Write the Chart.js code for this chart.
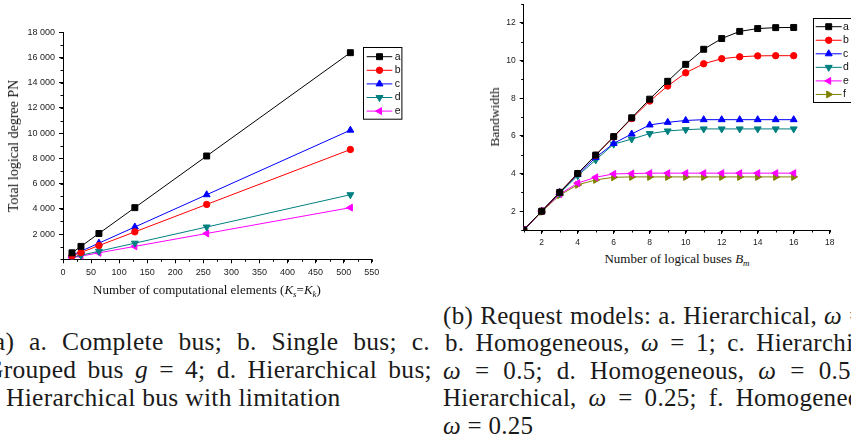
<!DOCTYPE html>
<html>
<head>
<meta charset="utf-8">
<script src="https://cdn.jsdelivr.net/npm/chart.js@4.4.0/dist/chart.umd.min.js"></script>
<style>
  html, body { margin: 0; padding: 0; background: #fff; width: 851px; height: 447px; overflow: hidden; position: relative; }
  canvas { position: absolute; }
  #c1 { left: 0; top: 0; }
  #c2 { left: 430px; top: -5px; }
  .t { position: absolute; font-family: "Liberation Serif", serif; font-size: 13px; color: #111; white-space: nowrap; transform: translate(-50%, -50%); }
  .t.rot { transform: translate(-50%, -50%) rotate(-90deg); }
  .t sub { font-size: 9px; vertical-align: -3px; line-height: 0; }
  .cap { position: absolute; font-family: "Liberation Serif", serif; font-size: 25.5px; line-height: 28px; letter-spacing: 0.3px; color: #1a1a1a; white-space: nowrap; }
  .cap.r { font-size: 25px; }
  .j { white-space: normal; text-align: justify; text-align-last: justify; }
</style>
</head>
<body>
<canvas id="c1" width="430" height="285"></canvas>
<canvas id="c2" width="421" height="255"></canvas>

<div class="t rot" style="left:14px;top:146px;font-size:14px">Total logical degree PN</div>
<div class="t" style="left:207px;top:290px">Number of computational elements (<i>K</i><sub><i>s</i></sub>=<i>K</i><sub><i>k</i></sub>)</div>
<div class="t rot" style="left:495px;top:117px;font-size:13.5px">Bandwidth</div>
<div class="t" style="left:677px;top:259px">Number of logical buses <i>B</i><sub><i>m</i></sub></div>

<div class="cap j" style="left:-15px;top:328px;width:445px">(a) a. Complete bus; b. Single bus; c.</div>
<div class="cap j" style="left:-15px;top:356px;width:447px">Grouped bus <i>g</i> = 4; d. Hierarchical bus;</div>
<div class="cap" style="left:-19px;top:384px">e. Hierarchical bus with limitation</div>

<div class="cap r j" style="left:443px;top:302px;width:447px">(b) Request models: a. Hierarchical, <i>ω</i> = 1.</div>
<div class="cap r j" style="left:445px;top:329px;width:445px">b. Homogeneous, <i>ω</i> = 1; c. Hierarchical,</div>
<div class="cap r j" style="left:443px;top:357px;width:447px"><i>ω</i> = 0.5; d. Homogeneous, <i>ω</i> = 0.5; e.</div>
<div class="cap r j" style="left:443px;top:384px;width:447px">Hierarchical, <i>ω</i> = 0.25; f. Homogeneous,</div>
<div class="cap r" style="left:443px;top:412px"><i>ω</i> = 0.25</div>

<script>
// ---- data, left chart: total logical degree vs computational elements
const elements = [16, 32, 64, 128, 256, 512];
const degreeA = [512, 1024, 2048, 4096, 8192, 16384];
const degreeB = [272, 544, 1088, 2176, 4352, 8704];
const degreeC = [320, 640, 1280, 2560, 5120, 10240];
const degreeD = [160, 320, 640, 1280, 2560, 5120];
const degreeE = [128, 256, 512, 1024, 2048, 4096];
const leftXTicks = [0, 50, 100, 150, 200, 250, 300, 350, 400, 450, 500, 550];
const leftYTicks = [2000, 4000, 6000, 8000, 10000, 12000, 14000, 16000, 18000];

// ---- data, right chart: bandwidth vs logical buses
const buses = [1, 2, 3, 4, 5, 6, 7, 8, 9, 10, 11, 12, 13, 14, 15, 16];
const bwA = [1, 2, 3, 4, 4.98, 5.96, 6.96, 7.95, 8.9, 9.8, 10.6, 11.17, 11.55, 11.7, 11.75, 11.76];
const bwB = [1, 2, 3, 4, 4.97, 5.95, 6.92, 7.85, 8.65, 9.35, 9.83, 10.1, 10.2, 10.25, 10.26, 10.26];
const bwC = [1, 2, 3, 3.95, 4.85, 5.6, 6.1, 6.58, 6.72, 6.82, 6.86, 6.86, 6.86, 6.86, 6.86, 6.86];
const bwD = [1, 2, 2.95, 3.88, 4.72, 5.56, 5.83, 6.12, 6.26, 6.33, 6.37, 6.37, 6.37, 6.37, 6.37, 6.37];
const bwE = [1, 2, 2.9, 3.49, 3.8, 3.98, 4.0, 4.02, 4.02, 4.02, 4.02, 4.02, 4.02, 4.02, 4.02, 4.02];
const bwF = [1, 1.97, 2.85, 3.4, 3.66, 3.8, 3.82, 3.82, 3.82, 3.82, 3.82, 3.82, 3.82, 3.82, 3.82, 3.82];
const rightXTicks = [2, 4, 6, 8, 10, 12, 14, 16, 18];
const rightYTicks = [2, 4, 6, 8, 10, 12];

const tickFont = { family: '"Liberation Sans", Arial, sans-serif' };

function pairs(xs, ys) {
  return xs.map((x, i) => ({ x: x, y: ys[i] }));
}

function series(label, color, style, rotation, radius, xs, ys) {
  return {
    label: label,
    data: pairs(xs, ys),
    borderColor: color,
    backgroundColor: color,
    borderWidth: 1,
    pointStyle: style,
    pointRotation: rotation,
    pointRadius: radius,
    pointBackgroundColor: color,
    pointBorderColor: color,
    pointBorderWidth: 1,
    tension: 0
  };
}

function spaced(v) {
  return String(v).replace(/\B(?=(\d{3})+(?!\d))/g, ' ');
}

// short minor ticks between the labelled ones
const minorTicks = {
  id: 'minorTicks',
  afterDraw(chart, args, opts) {
    const ctx = chart.ctx;
    const area = chart.chartArea;
    ctx.save();
    ctx.strokeStyle = '#000';
    ctx.lineWidth = 1;
    const sx = chart.scales.x, sy = chart.scales.y;
    for (let v = sx.min; v <= sx.max + 1e-9; v += opts.x) {
      const p = Math.round(sx.getPixelForValue(v)) + 0.5;
      ctx.beginPath(); ctx.moveTo(p, area.bottom); ctx.lineTo(p, area.bottom + 2.5); ctx.stroke();
    }
    for (let v = sy.min; v <= sy.max + 1e-9; v += opts.y) {
      const p = Math.round(sy.getPixelForValue(v)) + 0.5;
      ctx.beginPath(); ctx.moveTo(area.left, p); ctx.lineTo(area.left - 2.5, p); ctx.stroke();
    }
    ctx.restore();
  }
};

// framed legend like the original plots
const boxLegend = {
  id: 'boxLegend',
  afterDraw(chart, args, o) {
    const ctx = chart.ctx;
    ctx.save();
    ctx.fillStyle = '#fff';
    ctx.fillRect(o.x, o.y, o.w, o.h);
    ctx.strokeStyle = '#000';
    ctx.lineWidth = 1;
    ctx.strokeRect(Math.round(o.x) + 0.5, Math.round(o.y) + 0.5, o.w, o.h);
    ctx.font = '10.5px "Liberation Sans", Arial, sans-serif';
    ctx.textBaseline = 'middle';
    chart.data.datasets.forEach((ds, i) => {
      const y = o.y + o.first + i * o.gap;
      ctx.strokeStyle = ds.borderColor;
      ctx.beginPath(); ctx.moveTo(o.x + o.l0, y); ctx.lineTo(o.x + o.l1, y); ctx.stroke();
      ctx.fillStyle = ds.pointBackgroundColor;
      Chart.helpers.drawPoint(ctx, {
        pointStyle: ds.pointStyle, radius: ds.pointRadius, rotation: ds.pointRotation, borderWidth: 1
      }, o.x + (o.l0 + o.l1) / 2, y);
      ctx.fillStyle = '#111';
      ctx.fillText(ds.label, o.x + o.tx, y);
    });
    ctx.restore();
  }
};

function axis(min, max, ticks, fontSize, fmt, fitKey, fitVal) {
  return {
    type: 'linear',
    min: min,
    max: max,
    afterBuildTicks: s => { s.ticks = ticks.map(v => ({ value: v })); },
    afterFit: s => { s[fitKey] = fitVal; },
    grid: { drawOnChartArea: false, drawTicks: true, tickLength: 4, color: '#000', tickColor: '#000' },
    border: { display: true, color: '#000', width: 1 },
    ticks: { autoSkip: false, maxRotation: 0, padding: 4, color: '#222', font: Object.assign({ size: fontSize }, tickFont), callback: fmt }
  };
}

new Chart(document.getElementById('c1'), {
  type: 'line',
  data: {
    datasets: [
      series('a', '#000000', 'rect', 0, 4.2, elements, degreeA),
      series('b', '#ff0000', 'circle', 0, 3.2, elements, degreeB),
      series('c', '#0000ff', 'triangle', 0, 4, elements, degreeC),
      series('d', '#008080', 'triangle', 180, 4, elements, degreeD),
      series('e', '#ff00ff', 'triangle', 270, 4, elements, degreeE)
    ]
  },
  options: {
    responsive: false,
    animation: false,
    layout: { padding: { left: 0, right: 58.3, top: 32.3, bottom: 0 } },
    scales: {
      x: axis(0, 550, leftXTicks, 9, v => String(v), 'height', 25.7),
      y: axis(0, 18000, leftYTicks, 9, v => spaced(v), 'width', 63)
    },
    plugins: {
      legend: { display: false },
      tooltip: { enabled: false },
      minorTicks: { x: 25, y: 1000 },
      boxLegend: { x: 363.3, y: 47.3, w: 38.4, h: 71.7, first: 9.4, gap: 13.6, l0: 3.4, l1: 29, tx: 31.5 }
    }
  },
  plugins: [minorTicks, boxLegend]
});

new Chart(document.getElementById('c2'), {
  type: 'line',
  data: {
    datasets: [
      series('a', '#000000', 'rect', 0, 4.2, buses, bwA),
      series('b', '#ff0000', 'circle', 0, 3.2, buses, bwB),
      series('c', '#0000ff', 'triangle', 0, 4, buses, bwC),
      series('d', '#008080', 'triangle', 180, 4, buses, bwD),
      series('e', '#ff00ff', 'triangle', 270, 4, buses, bwE),
      series('f', '#808000', 'triangle', 90, 4, buses, bwF)
    ]
  },
  options: {
    responsive: false,
    animation: false,
    layout: { padding: { left: 0, right: 21.3, top: 7.7, bottom: 0 } },
    scales: {
      x: axis(1, 18, rightXTicks, 8.5, v => String(v), 'height', 20),
      y: axis(1, 13, rightYTicks, 8.5, v => String(v), 'width', 93.7)
    },
    plugins: {
      legend: { display: false },
      tooltip: { enabled: false },
      minorTicks: { x: 1, y: 1 },
      boxLegend: { x: 383.3, y: 22.7, w: 50, h: 84, first: 9, gap: 13.55, l0: 2.4, l1: 28.4, tx: 29.6 }
    }
  },
  plugins: [minorTicks, boxLegend]
});
</script>
</body>
</html>
